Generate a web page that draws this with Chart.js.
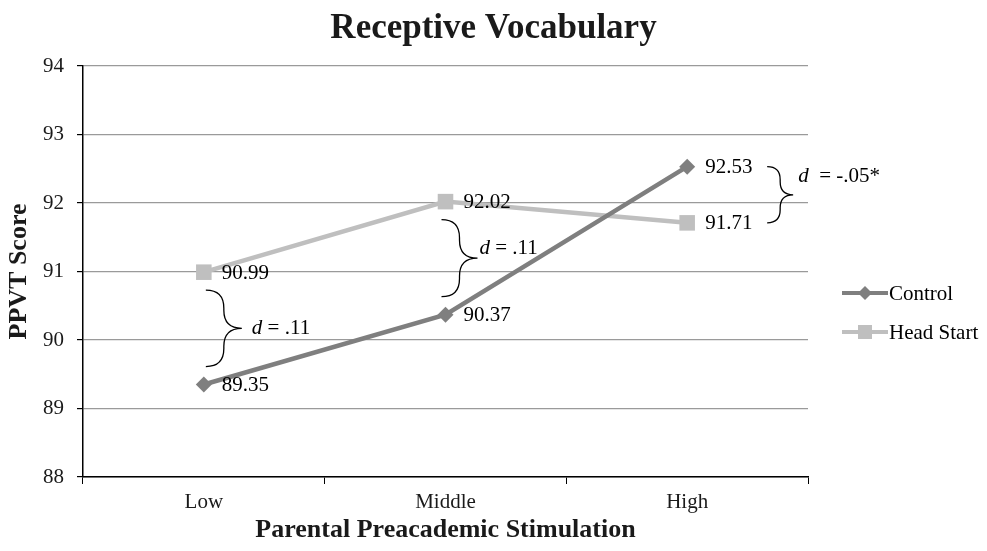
<!DOCTYPE html>
<html lang="en">
<head>
<meta charset="UTF-8">
<title>Receptive Vocabulary</title>
<script src="https://cdn.jsdelivr.net/npm/chart.js"></script>
<style>
  html, body { margin: 0; padding: 0; background: #fff; }
  canvas { display: block; }
</style>
</head>
<body>
<canvas id="vocabChart" width="987" height="551"></canvas>
<script>
  const categories = ['Low', 'Middle', 'High'];
  const controlScores = [89.35, 90.37, 92.53];
  const headStartScores = [90.99, 92.02, 91.71];
  const yTicks = [88, 89, 90, 91, 92, 93, 94];
  const effectSizes = ['.11', '.11', '-.05*'];

  const serif = '"Liberation Serif", "Times New Roman", serif';
  const controlColor = '#7f7f7f';
  const headStartColor = '#bfbfbf';

  // brace layout per category (pixel tweaks only)
  const braceShiftX = [2, -4, 80];
  const braceInset = [18, 18, 0];
  const braceWidth = [36, 36, 26];
  const braceTextGap = [10, 2, 5];
  const braceTextDy = [0, -10, -18];

  function drawBrace(ctx, x, yTop, yBot, w) {
    const ym = (yTop + yBot) / 2;
    const h = w / 2;
    const r = Math.min(h, (yBot - yTop) / 4);
    ctx.beginPath();
    ctx.moveTo(x, yTop);
    ctx.quadraticCurveTo(x + h, yTop, x + h, yTop + r);
    ctx.lineTo(x + h, ym - r);
    ctx.quadraticCurveTo(x + h, ym, x + w, ym);
    ctx.quadraticCurveTo(x + h, ym, x + h, ym + r);
    ctx.lineTo(x + h, yBot - r);
    ctx.quadraticCurveTo(x + h, yBot, x, yBot);
    ctx.stroke();
  }

  const extras = {
    id: 'extras',
    afterDatasetsDraw(chart) {
      const { ctx, chartArea, scales: { x, y } } = chart;
      ctx.save();

      // title, centred on the whole canvas
      ctx.fillStyle = '#1a1a1a';
      ctx.font = 'bold 35px ' + serif;
      ctx.textAlign = 'center';
      ctx.textBaseline = 'middle';
      ctx.fillText('Receptive Vocabulary', chart.width / 2, 29);

      // value labels right of each point
      ctx.font = '21px ' + serif;
      ctx.fillStyle = '#000';
      ctx.textAlign = 'left';
      chart.data.datasets.forEach((ds, di) => {
        chart.getDatasetMeta(di).data.forEach((pt, i) => {
          ctx.fillText(ds.data[i].toFixed(2), pt.x + 18, pt.y + 1);
        });
      });

      // braces with effect sizes
      ctx.strokeStyle = '#000';
      ctx.lineWidth = 1.3;
      categories.forEach((c, i) => {
        const hi = Math.max(controlScores[i], headStartScores[i]);
        const lo = Math.min(controlScores[i], headStartScores[i]);
        const yTop = y.getPixelForValue(hi) + braceInset[i];
        const yBot = y.getPixelForValue(lo) - braceInset[i];
        const bx = x.getPixelForValue(i) + braceShiftX[i];
        drawBrace(ctx, bx, yTop, yBot, braceWidth[i]);
        let tx = bx + braceWidth[i] + braceTextGap[i];
        const ty = (yTop + yBot) / 2 + braceTextDy[i];
        ctx.font = 'italic 21px ' + serif;
        ctx.fillText('d', tx, ty);
        tx += ctx.measureText('d').width;
        ctx.font = '21px ' + serif;
        ctx.fillText((i === 2 ? '  = ' : ' = ') + effectSizes[i], tx, ty);
      });

      // legend
      const lx = chartArea.right + 34;
      const rows = [
        { label: 'Control', color: controlColor, shape: 'diamond', y: chartArea.top + 227 },
        { label: 'Head Start', color: headStartColor, shape: 'square', y: chartArea.top + 266 }
      ];
      rows.forEach(row => {
        ctx.strokeStyle = row.color;
        ctx.fillStyle = row.color;
        ctx.lineWidth = 4;
        ctx.beginPath();
        ctx.moveTo(lx, row.y);
        ctx.lineTo(lx + 46, row.y);
        ctx.stroke();
        const mx = lx + 23;
        ctx.beginPath();
        if (row.shape === 'diamond') {
          ctx.moveTo(mx - 7, row.y);
          ctx.lineTo(mx, row.y - 7);
          ctx.lineTo(mx + 7, row.y);
          ctx.lineTo(mx, row.y + 7);
          ctx.closePath();
        } else {
          ctx.rect(mx - 7, row.y - 7, 14, 14);
        }
        ctx.fill();
        ctx.fillStyle = '#000';
        ctx.font = '21px ' + serif;
        ctx.fillText(row.label, lx + 47, row.y + 1);
      });

      ctx.restore();
    }
  };

  const ctx = document.getElementById('vocabChart').getContext('2d');
  new Chart(ctx, {
    type: 'line',
    data: {
      labels: categories,
      datasets: [
        {
          label: 'Control',
          data: controlScores,
          borderColor: controlColor,
          backgroundColor: controlColor,
          borderWidth: 4.5,
          pointStyle: 'rectRot',
          pointRadius: 8,
          pointBorderWidth: 0,
          tension: 0
        },
        {
          label: 'Head Start',
          data: headStartScores,
          borderColor: headStartColor,
          backgroundColor: headStartColor,
          borderWidth: 4.5,
          pointStyle: 'rect',
          pointRadius: 11,
          pointBorderWidth: 0,
          tension: 0
        }
      ]
    },
    options: {
      responsive: false,
      animation: false,
      devicePixelRatio: 1,
      layout: { padding: { left: 0, right: 179, top: 66, bottom: 0 } },
      plugins: {
        legend: { display: false },
        tooltip: { enabled: false },
        title: { display: false }
      },
      scales: {
        x: {
          offset: true,
          grid: {
            offset: true,
            drawOnChartArea: false,
            color: '#000',
            tickLength: 7
          },
          border: { color: '#000', width: 1.5 },
          ticks: {
            color: '#1a1a1a',
            font: { family: serif, size: 21 },
            padding: 6
          },
          title: {
            display: true,
            text: 'Parental Preacademic Stimulation',
            color: '#1a1a1a',
            font: { family: serif, size: 26, weight: 'bold' },
            padding: { top: 0, bottom: 5 }
          },
          afterFit(scale) { scale.height = 74; }
        },
        y: {
          min: yTicks[0],
          max: yTicks[yTicks.length - 1],
          ticks: {
            stepSize: 1,
            color: '#1a1a1a',
            font: { family: serif, size: 21 },
            padding: 13
          },
          grid: {
            color: '#9a9a9a',
            lineWidth: 1.2,
            tickColor: '#000',
            tickLength: 6
          },
          border: { color: '#000', width: 1.5 },
          title: {
            display: true,
            text: 'PPVT Score',
            color: '#1a1a1a',
            font: { family: serif, size: 26, weight: 'bold' },
            padding: { top: 4, bottom: 0 }
          },
          afterFit(scale) { scale.width = 83; }
        }
      }
    },
    plugins: [extras]
  });
</script>
</body>
</html>
